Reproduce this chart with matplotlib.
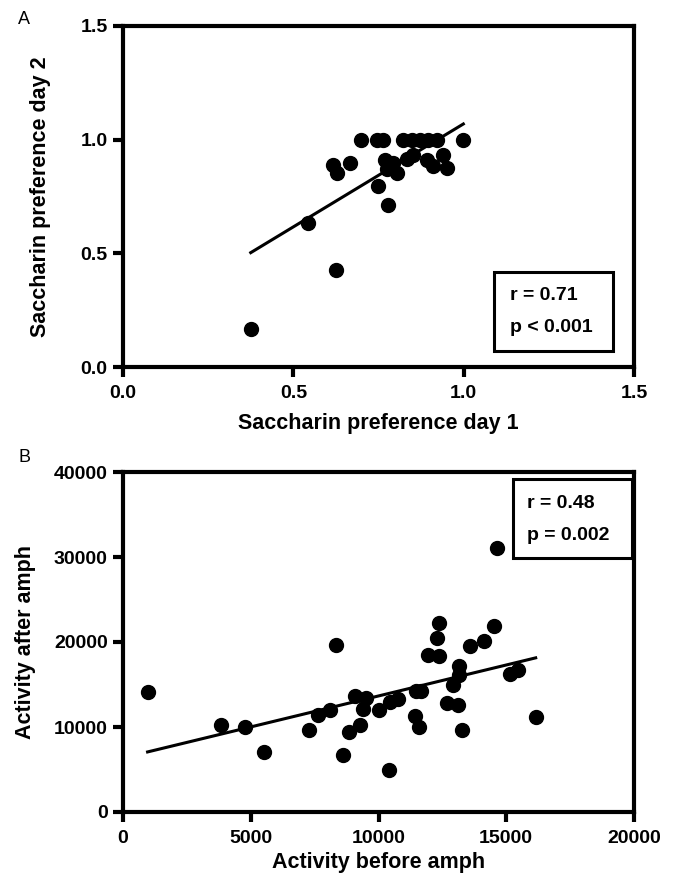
import numpy as np
import matplotlib
matplotlib.use('Agg')
import matplotlib.pyplot as plt
from matplotlib.patches import Rectangle

plt.rcParams['font.family'] = ['Liberation Sans', 'DejaVu Sans']

# Panel A: saccharin preference day 1 vs day 2
prefDay1 = [0.700, 0.745, 0.764, 0.823, 0.847, 0.872, 0.896, 0.921, 0.999,
            0.617, 0.627, 0.666, 0.769, 0.774, 0.793, 0.803, 0.833, 0.852,
            0.891, 0.911, 0.940, 0.950, 0.749, 0.779, 0.544, 0.625, 0.375]
prefDay2 = [1.0, 1.0, 1.0, 1.0, 1.0, 1.0, 1.0, 1.0, 1.0,
            0.889, 0.852, 0.899, 0.911, 0.870, 0.896, 0.855, 0.914, 0.933,
            0.911, 0.884, 0.933, 0.874, 0.796, 0.713, 0.632, 0.427, 0.166]
fitA_x = [0.375, 0.999]
fitA_y = [0.503, 1.069]
statsA = ['r = 0.71', 'p < 0.001']

# Panel B: activity before vs after amphetamine
actBefore = [962, 3831, 4793, 5536, 7291, 7629, 8101, 8354, 8591, 8861,
             9063, 9283, 9401, 9519, 10025, 10413, 10464, 10751, 11426, 11460,
             11679, 11595, 11932, 12354, 12304, 12354, 12692, 12911, 13114, 13148,
             13165, 13283, 13587, 14127, 14515, 14633, 15139, 15443, 16152]
actAfter = [14132, 10285, 10010, 7027, 9617, 11462, 12051, 19627, 6752, 9382,
            13700, 10285, 12130, 13425, 11973, 4985, 12915, 13307, 11344, 14210,
            14210, 10010, 18528, 22257, 20412, 18410, 12836, 14995, 12640, 17154,
            16173, 9696, 19588, 20098, 21865, 31011, 16291, 16762, 11188]
fitB_x = [962, 16152]
fitB_y = [7066, 18135]
statsB = ['r = 0.48', 'p = 0.002']

W, H = 676, 877
fig = plt.figure(figsize=(W / 100, H / 100), dpi=100)

def style_axes(ax):
    for s in ax.spines.values():
        s.set_linewidth(3)
    ax.tick_params(direction='out', length=7, width=3, labelsize=14)
    ax.tick_params(axis='x', pad=6)
    ax.tick_params(axis='y', pad=4)
    for lab in ax.get_xticklabels() + ax.get_yticklabels():
        lab.set_fontweight('bold')

def stat_box(ax, box, lines, tx, ty):
    ax.add_patch(Rectangle((box[0], box[1]), box[2] - box[0], box[3] - box[1],
                           transform=ax.transAxes, fill=False, lw=2.2,
                           edgecolor='black', zorder=5, clip_on=False))
    for t, y in zip(lines, ty):
        ax.text(tx, y, t, transform=ax.transAxes, fontsize=14,
                fontweight='bold', va='center', ha='left')

# --- A ---
axA = fig.add_axes([123 / W, 1 - 367 / H, 511 / W, 341 / H])
axA.plot(fitA_x, fitA_y, color='black', lw=2.2, zorder=2)
axA.plot(prefDay1, prefDay2, 'o', color='black', ms=10, zorder=3)
axA.set_xlim(0, 1.5)
axA.set_ylim(0, 1.5)
axA.set_xticks([0, 0.5, 1.0, 1.5])
axA.set_yticks([0, 0.5, 1.0, 1.5])
axA.xaxis.set_major_formatter(matplotlib.ticker.FormatStrFormatter('%.1f'))
axA.yaxis.set_major_formatter(matplotlib.ticker.FormatStrFormatter('%.1f'))
axA.set_xlabel('Saccharin preference day 1', fontsize=15.5, fontweight='bold')
axA.set_ylabel('Saccharin preference day 2', fontsize=15.5, fontweight='bold')
axA.xaxis.set_label_coords(0.5, -0.135)
axA.yaxis.set_label_coords(-0.14, 0.5)
style_axes(axA)
stat_box(axA, (0.727, 0.047, 0.959, 0.279), statsA, 0.758, [0.21, 0.115])
fig.text(18 / W, 1 - 20 / H, 'A', fontsize=13, va='center', ha='left')

# --- B ---
axB = fig.add_axes([123 / W, 1 - 812 / H, 511 / W, 340 / H])
axB.plot(fitB_x, fitB_y, color='black', lw=2.2, zorder=2)
axB.plot(actBefore, actAfter, 'o', color='black', ms=10, zorder=3)
axB.set_xlim(0, 20000)
axB.set_ylim(0, 40000)
axB.set_xticks(np.arange(0, 20001, 5000))
axB.set_yticks(np.arange(0, 40001, 10000))
axB.set_xlabel('Activity before amph', fontsize=15.5, fontweight='bold')
axB.set_ylabel('Activity after amph', fontsize=15.5, fontweight='bold')
axB.xaxis.set_label_coords(0.5, -0.118)
axB.yaxis.set_label_coords(-0.17, 0.5)
style_axes(axB)
stat_box(axB, (0.763, 0.748, 0.996, 0.980), statsB, 0.79, [0.908, 0.814])
fig.text(18 / W, 1 - 457 / H, 'B', fontsize=13, va='center', ha='left')

fig.savefig('out.png', dpi=100)
